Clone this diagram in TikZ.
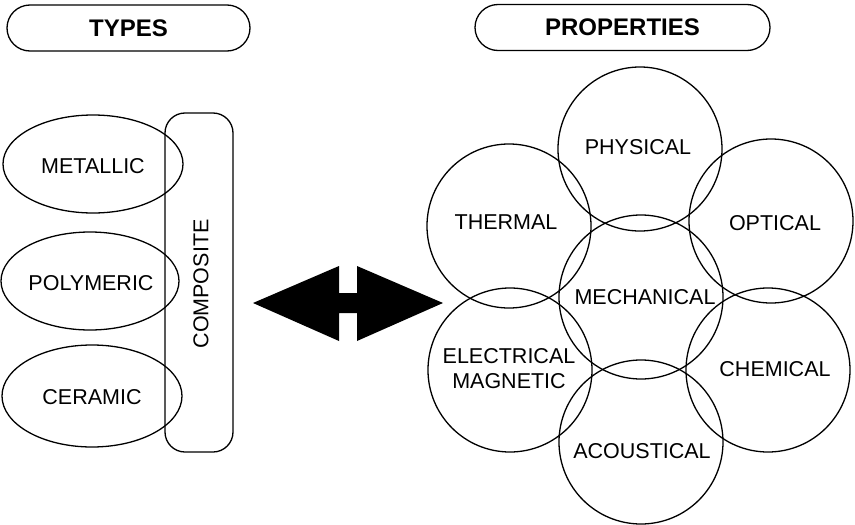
\documentclass[tikz,border=0pt]{standalone}
\usepackage{fontspec}
\setmainfont{Liberation Sans}
\usetikzlibrary{shapes.geometric}
\begin{document}
\begin{tikzpicture}[x=1pt,y=-1pt,
  line width=1.3pt,
  lbl/.style={font=\fontsize{21.5}{25}\selectfont, align=center, inner sep=0pt},
  head/.style={draw, rounded corners=23pt, minimum height=46pt, inner sep=0pt, outer sep=0pt,
               font=\fontsize{24}{28}\selectfont\bfseries},
  kind/.style={draw, ellipse, inner sep=0pt, outer sep=0pt, minimum width=180pt, minimum height=98pt},
  prop/.style={draw, circle, inner sep=0pt, outer sep=0pt, minimum size=164pt},
  arrowfill/.style={fill=black, draw=none}]
\useasboundingbox (0,0) rectangle (855,525);

% headers
\node[head, minimum width=243pt] (types) at (128.5,28) {TYPES};
\node[head, minimum width=295pt] (props) at (622.5,27.5) {PROPERTIES};

% material types
\node[kind] (metallic) at (93,164) {};
\node[kind, minimum width=178pt] (polymeric) at (90,281) {};
\node[kind, minimum height=102pt] (ceramic) at (92,396) {};
\node[lbl] (tmetallic) at (93,166) {METALLIC};
\node[lbl] (tpolymeric) at (91,283) {POLYMERIC};
\node[lbl] (tceramic) at (92,397) {CERAMIC};
\node[draw, rounded corners=20pt, minimum width=68pt, minimum height=339pt,
      inner sep=0pt, outer sep=0pt] (composite) at (199,282.5) {};
\node[lbl, rotate=90] (tcomposite) at (201,284) {COMPOSITE};

% double-headed arrow
\fill[arrowfill] (253,303) -- (339,266) -- (339,293) -- (357,293) -- (357,266)
  -- (443,303) -- (357,341) -- (357,313) -- (339,313) -- (339,341) -- cycle;

% property circles
\node[prop] (physical) at (640,149) {};
\node[prop] (thermal) at (509,226) {};
\node[prop] (optical) at (771,221) {};
\node[prop] (mechanical) at (641,297) {};
\node[prop] (electrical) at (510,370) {};
\node[prop] (chemical) at (768,370) {};
\node[prop] (acoustical) at (641,442) {};

\node[lbl] (tphysical) at (638,147) {PHYSICAL};
\node[lbl] (tthermal) at (506,222) {THERMAL};
\node[lbl] (toptical) at (775,223) {OPTICAL};
\node[lbl] (tmechanical) at (645,297) {MECHANICAL};
\node[lbl] (telectrical) at (509,369) {ELECTRICAL\\MAGNETIC};
\node[lbl] (tchemical) at (775,369) {CHEMICAL};
\node[lbl] (tacoustical) at (642,451) {ACOUSTICAL};
\end{tikzpicture}
\end{document}
